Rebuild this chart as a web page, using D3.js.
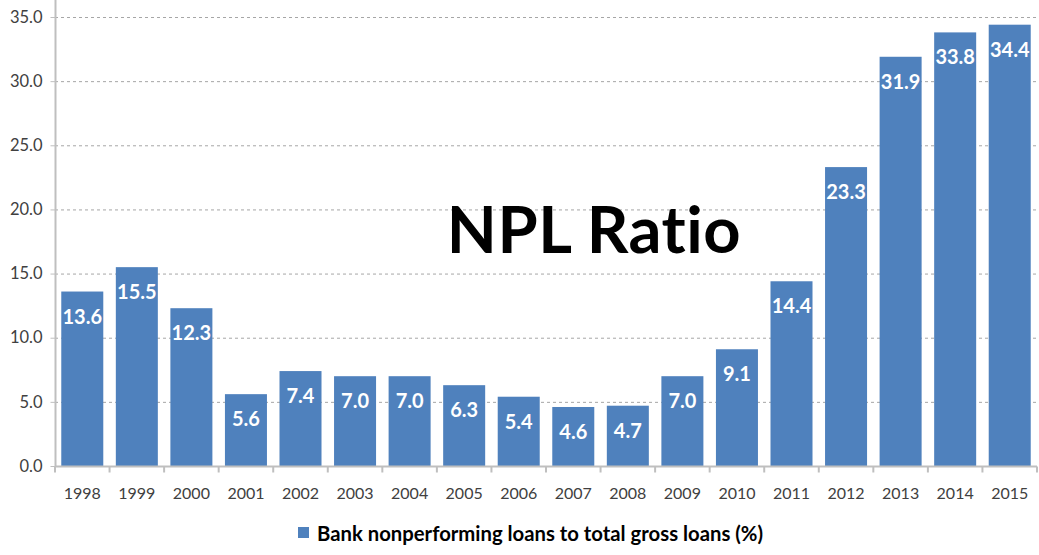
<!DOCTYPE html>
<html>
<head>
<meta charset="utf-8">
<script src="https://cdn.jsdelivr.net/npm/d3@7"></script>
<style>
  html, body { margin: 0; padding: 0; background: #fff; }
  svg { display: block; }
  text {
    font-family: "Lato", "Open Sans", sans-serif;
    font-variant-ligatures: none;
  }
</style>
</head>
<body>
<svg id="chart" width="1039" height="555"></svg>
<script>
// NPL ratio by year
const years = ["1998","1999","2000","2001","2002","2003","2004","2005","2006",
               "2007","2008","2009","2010","2011","2012","2013","2014","2015"];
const nplRatio = [13.6, 15.5, 12.3, 5.6, 7.4, 7.0, 7.0, 6.3, 5.4,
                  4.6, 4.7, 7.0, 9.1, 14.4, 23.3, 31.9, 33.8, 34.4];
const yTicks = [0, 5, 10, 15, 20, 25, 30, 35];
const seriesName = "Bank nonperforming loans to total gross loans (%)";
const chartTitle = "NPL Ratio";

const svg = d3.select("#chart");
const left = 55, right = 1037, bottom = 466, top35 = 17;

const x = d3.scaleBand().domain(years).range([left, right]).paddingInner(0.23).paddingOuter(0.115);
const y = d3.scaleLinear().domain([0, 35]).range([bottom, top35]);

const barColor = "#4F81BD";
const axisColor = "#bfbfbf";
const textColor = "#404040";

// gridlines
svg.append("g").selectAll("line").data(yTicks.filter(d => d > 0)).join("line")
  .attr("x1", left).attr("x2", right)
  .attr("y1", d => y(d) + 0.5).attr("y2", d => y(d) + 0.5)
  .attr("stroke", "#a6a6a6").attr("stroke-dasharray", "3,3").attr("stroke-width", 1);

// y axis
const yAxis = svg.append("g").attr("transform", `translate(${left + 0.5},0)`)
  .call(d3.axisLeft(y).tickValues(yTicks).tickFormat(d3.format(".1f")).tickSize(5).tickPadding(8));
yAxis.select(".domain").remove();
yAxis.append("line").attr("x1", 0).attr("x2", 0).attr("y1", 0).attr("y2", bottom)
  .attr("stroke", axisColor).attr("stroke-width", 2);
yAxis.selectAll(".tick line").attr("stroke", axisColor);
yAxis.selectAll(".tick text").attr("fill", textColor).style("font-size", "16.5px")
  .style("font-family", "Lato, sans-serif");

// bars
svg.append("g").selectAll("rect").data(nplRatio).join("rect")
  .attr("x", (d, i) => x(years[i]))
  .attr("width", x.bandwidth())
  .attr("y", d => y(d))
  .attr("height", d => bottom - y(d))
  .attr("fill", barColor);

// x axis
const step = x.step();
const xAxis = svg.append("g").attr("transform", `translate(0,${bottom + 0.5})`);
xAxis.append("line").attr("x1", left).attr("x2", right).attr("stroke", axisColor).attr("stroke-width", 2);
xAxis.selectAll("line.tk").data(d3.range(years.length + 1)).join("line").attr("class", "tk")
  .attr("x1", i => left + i * step).attr("x2", i => left + i * step)
  .attr("y1", 0).attr("y2", 6).attr("stroke", axisColor).attr("stroke-width", 2);
xAxis.selectAll("text").data(years).join("text")
  .attr("x", d => x(d) + x.bandwidth() / 2).attr("y", 32)
  .attr("text-anchor", "middle").attr("fill", textColor)
  .style("font-size", "16px").text(d => d);

// value labels
svg.append("g").selectAll("text").data(nplRatio).join("text")
  .attr("x", (d, i) => x(years[i]) + x.bandwidth() / 2)
  .attr("y", d => y(d) + 32)
  .attr("text-anchor", "middle").attr("fill", "#fff")
  .style("font-size", "20px").style("font-weight", "bold")
  .text(d => d.toFixed(1));

// title (slight tracking keeps the letters separate)
svg.append("text").attr("x", 594).attr("y", 253).attr("text-anchor", "middle")
  .attr("fill", "#000").style("font-size", "65px").style("font-weight", "bold")
  .style("letter-spacing", "0.5px")
  .text(chartTitle);

// legend
const lg = svg.append("g");
lg.append("rect").attr("x", 298).attr("y", 527).attr("width", 11).attr("height", 11).attr("fill", barColor);
lg.append("text").attr("x", 317).attr("y", 541).attr("fill", "#000")
  .style("font-size", "20.3px").style("font-weight", "bold").text(seriesName);
</script>
</body>
</html>
